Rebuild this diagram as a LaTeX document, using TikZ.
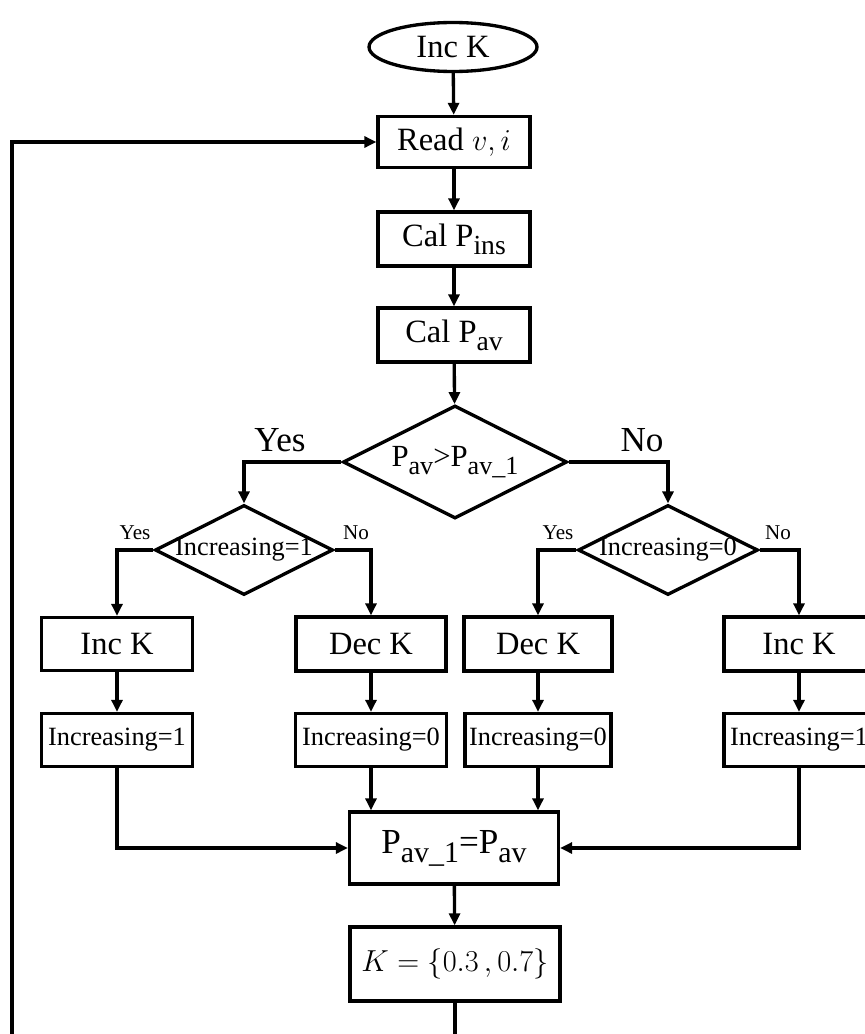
\documentclass[tikz,border=0pt]{standalone}
\usepackage{fontspec}
\setmainfont{Liberation Serif}
\usetikzlibrary{shapes,arrows.meta}

\newcommand{\lo}[1]{\raisebox{-0.55ex}{\scalebox{0.85}{#1}}}

\tikzstyle{proc}=[draw, rectangle, line width=1.9pt, inner sep=0pt, font=\fontsize{18.5}{22}\selectfont]
\tikzstyle{flag}=[proc, font=\fontsize{15}{18}\selectfont]
\tikzstyle{test}=[draw, diamond, line width=1.9pt, inner sep=0pt]
\tikzstyle{ans}=[font=\fontsize{12}{14}\selectfont]
\tikzstyle{bigans}=[font=\fontsize{20}{24}\selectfont]
\tikzstyle{flow}=[line width=1.9pt, -{Triangle[length=0.24cm,width=0.22cm]}]

\begin{document}
\begin{tikzpicture}[x=0.02cm, y=-0.02cm]
\useasboundingbox (0,0) rectangle (865,1034);

% main column
\node[draw, ellipse, line width=1.9pt, inner sep=0pt, minimum width=3.36cm, minimum height=0.98cm, font=\fontsize{18.5}{22}\selectfont] (start) at (453,47) {Inc K};
\node[proc, minimum width=3.04cm, minimum height=1.02cm] (read) at (454,142) {Read $v,i$};
\node[proc, minimum width=3.04cm, minimum height=1.08cm] (pins) at (454,239) {Cal P\lo{ins}};
\node[proc, minimum width=3.04cm, minimum height=1.08cm] (pav) at (454,335) {Cal P\lo{av}};
\node[test, minimum width=4.48cm, minimum height=2.26cm, font=\fontsize{17.5}{20}\selectfont] (cmp) at (455,462) {\makebox[0pt]{P\lo{av}>P\lo{av\_1}}};

% second level tests
\node[test, minimum width=3.56cm, minimum height=1.8cm, font=\fontsize{15}{18}\selectfont] (chk1) at (244,550) {\makebox[0pt]{Increasing=1}};
\node[test, minimum width=3.6cm, minimum height=1.8cm, font=\fontsize{15}{18}\selectfont] (chk0) at (668,550) {\makebox[0pt]{Increasing=0}};

% step K
\node[proc, minimum width=3.02cm, minimum height=1.06cm] (inc1) at (117,644) {Inc K};
\node[proc, minimum width=3.0cm, minimum height=1.08cm] (dec1) at (371,644) {Dec K};
\node[proc, minimum width=2.96cm, minimum height=1.08cm] (dec2) at (538,644) {Dec K};
\node[proc, minimum width=3.0cm, minimum height=1.08cm] (inc2) at (799,644) {Inc K};

% direction flags
\node[flag, minimum width=3.02cm, minimum height=1.06cm] (f1) at (117,740) {Increasing=1};
\node[flag, minimum width=3.02cm, minimum height=1.06cm] (f2) at (371,740) {Increasing=0};
\node[flag, minimum width=2.92cm, minimum height=1.06cm] (f3) at (538,740) {Increasing=0};
\node[flag, minimum width=3.0cm, minimum height=1.06cm] (f4) at (799,740) {Increasing=1};

\node[proc, minimum width=4.18cm, minimum height=1.44cm, font=\fontsize{20}{24}\selectfont] (pav1) at (454,848) {P\lo{av\_1}=P\lo{av}};
\node[proc, minimum width=4.2cm, minimum height=1.48cm] (kset) at (455,964) {$K=\{0.3\,,0.7\}$};

% branch labels
\node[bigans] (yes0) at (280,440) {Yes};
\node[bigans] (no0) at (642,440) {No};
\node[ans] (yes1) at (135,533) {Yes};
\node[ans] (no1) at (356,533) {No};
\node[ans] (yes2) at (558,533) {Yes};
\node[ans] (no2) at (778,533) {No};

\coordinate (back) at (12,1050);

\draw[flow] (start) -- (read);
\draw[flow] (read) -- (pins);
\draw[flow] (pins) -- (pav);
\draw[flow] (pav) -- (cmp);
\draw[flow] (cmp.west) -| (chk1.north);
\draw[flow] (cmp.east) -| (chk0.north);
\draw[flow] (chk1.west) -| (inc1.north);
\draw[flow] (chk1.east) -| (dec1.north);
\draw[flow] (chk0.west) -| (dec2.north);
\draw[flow] (chk0.east) -| (inc2.north);
\draw[flow] (inc1) -- (f1);
\draw[flow] (dec1) -- (f2);
\draw[flow] (dec2) -- (f3);
\draw[flow] (inc2) -- (f4);
\draw[flow] (f1.south) |- (pav1.west);
\draw[flow] (f2) -- (f2 |- pav1.north);
\draw[flow] (f3) -- (f3 |- pav1.north);
\draw[flow] (f4.south) |- (pav1.east);
\draw[flow] (pav1) -- (kset);
\draw[flow] (kset.south) |- (back) |- (read.west);

\end{tikzpicture}
\end{document}
